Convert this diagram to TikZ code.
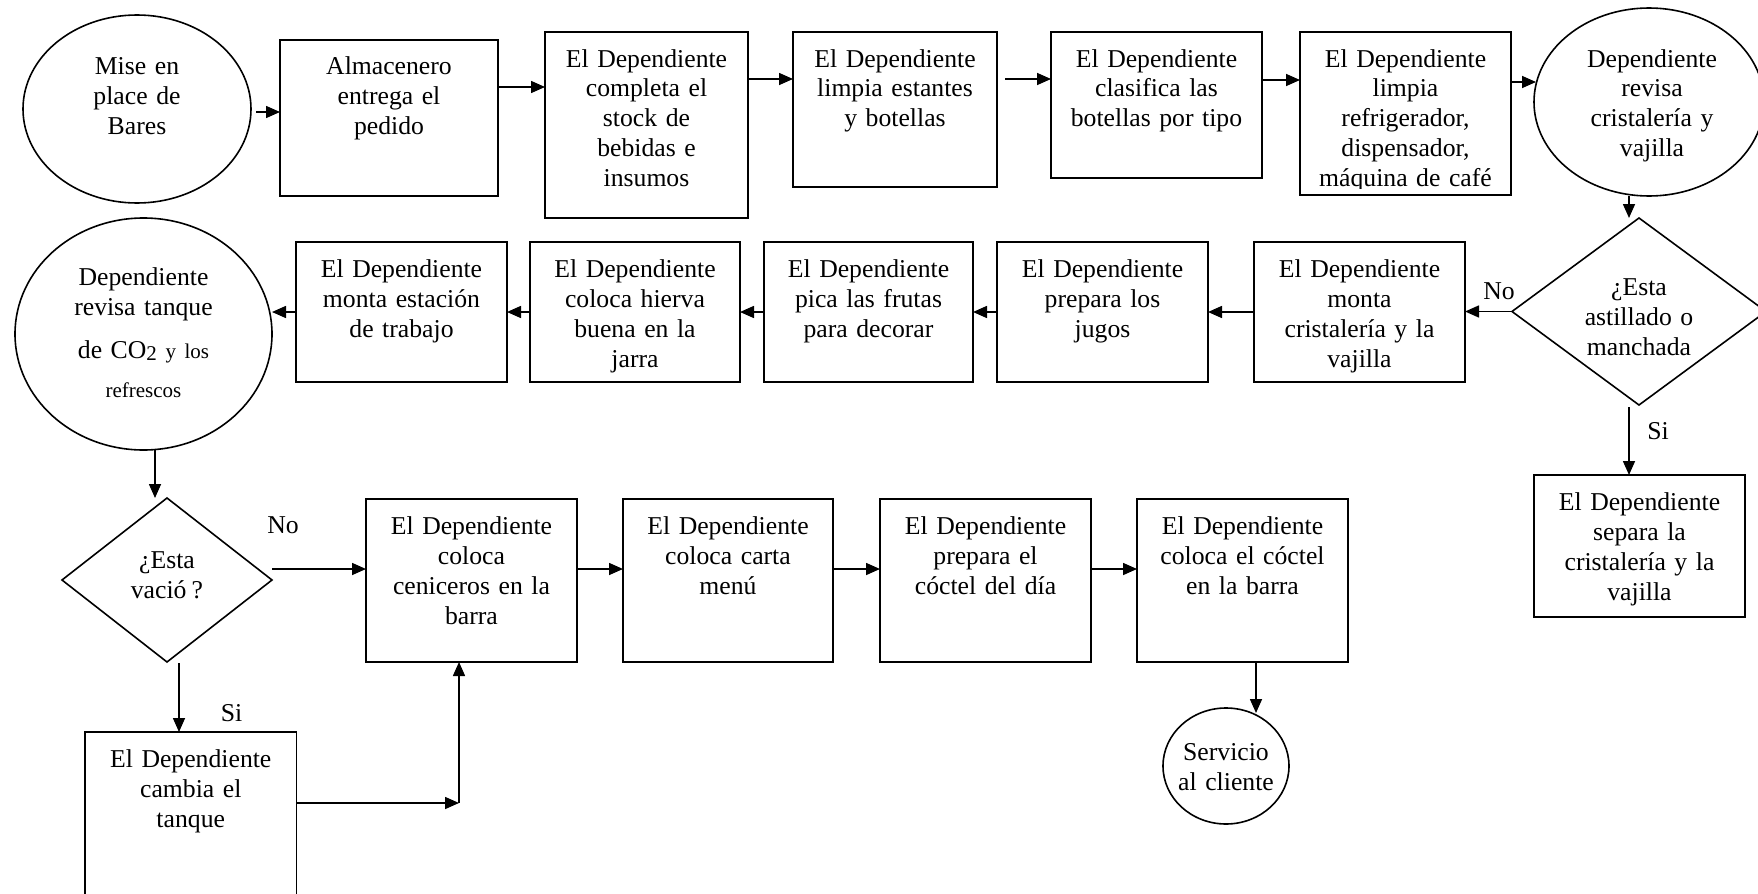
\documentclass[tikz,border=0pt]{standalone}
\usepackage{fontspec}
\setmainfont{Liberation Serif}
\usetikzlibrary{arrows.meta,shapes.geometric}

\tikzset{
  x=0.5pt, y=-0.5pt,
  every node/.style={font=\fontsize{12.85}{15}\selectfont},
  line/.style={line width=0.8pt, black},
  arr/.style={line, -{Triangle[length=7pt,width=6pt]}},
  procbox/.style={draw, line width=0.8pt, rectangle, inner sep=0pt, outer sep=0pt},
  oval/.style={draw, line width=0.8pt, ellipse, inner sep=0pt, outer sep=0pt},
  decision/.style={draw, line width=0.8pt, diamond, inner sep=0pt, outer sep=0pt},
  txt/.style={anchor=base, align=center, inner sep=0pt, text width=130pt},
  lbl/.style={anchor=base, inner sep=0pt},
}

% process box: name, x1, y1, x2, y2, text (first baseline 35 units below the top)
\newcommand\procstep[6]{%
  \node[procbox, minimum width={(#4-#2)*0.5pt}, minimum height={(#5-#3)*0.5pt}]
    (#1) at ({(#2+#4)/2},{(#3+#5)/2}) {};
  \node[txt] (#1-t) at ({(#2+#4)/2},{#3+35}) {#6};
}
\newcommand\smalltext{\fontsize{10.5}{12}\selectfont}

\begin{document}
\begin{tikzpicture}
\useasboundingbox (0,0) rectangle (1758,894);
\clip (0,0) rectangle (1758,894);

% ---------- first row ----------
\node[oval, minimum width=114pt, minimum height=94pt] (E1) at (137,109) {};
\node[txt] (E1-t) at (137,75) {Mise en\\place de\\Bares};

\procstep{B2}{280}{40}{498}{196}{Almacenero\\entrega el\\pedido}
\procstep{B3}{545}{32}{748}{218}{El Dependiente\\completa el\\stock de\\bebidas e\\insumos}
\procstep{B4}{793}{32}{997}{187}{El Dependiente\\limpia estantes\\y botellas}
\procstep{B5}{1051}{32}{1262}{178}{El Dependiente\\clasifica las\\botellas por tipo}

\node[procbox, minimum width=105.5pt, minimum height=81.5pt] (B6) at (1405.5,113.5) {};
\begin{scope}
  \clip (1300,32) rectangle (1511,188);
  \node[txt] (B6-t) at (1405.5,67) {El Dependiente\\limpia\\refrigerador,\\dispensador,\\máquina de café};
\end{scope}

\node[oval, minimum width=115pt, minimum height=94pt] (E7) at (1649,102) {};
\node[txt] (E7-t) at (1652,67) {Dependiente\\revisa\\cristalería y\\vajilla};

% ---------- decision on glassware ----------
\node[decision, minimum width=127pt, minimum height=93.5pt] (D1) at (1639,311.5) {};
\node[txt] (D1-t) at (1639,295) {¿Esta\\astillado o\\manchada};

\procstep{B8}{1254}{242}{1465}{382}{El Dependiente\\monta\\cristalería y la\\vajilla}
\procstep{B10}{1534}{475}{1745}{617}{El Dependiente\\separa la\\cristalería y la\\vajilla}

% ---------- second row ----------
\procstep{B14}{997}{242}{1208}{382}{El Dependiente\\prepara los\\jugos}
\procstep{B13}{764}{242}{973}{382}{El Dependiente\\pica las frutas\\para decorar}
\procstep{B12}{530}{242}{740}{382}{El Dependiente\\coloca hierva\\buena en la\\jarra}
\procstep{B11}{296}{242}{507}{382}{El Dependiente\\monta estación\\de trabajo}

\node[oval, minimum width=128.5pt, minimum height=116pt] (C2) at (143.5,334) {};
\node[txt] (C2-t) at (143.5,285) {Dependiente\\revisa tanque\\[6.5pt]de CO{\smalltext\raisebox{-0.1em}{2} y los}\\[4.5pt]{\smalltext refrescos}};

% ---------- decision on the CO2 tank ----------
\node[decision, minimum width=105pt, minimum height=82pt] (D2) at (167,580) {};
\node[txt] (D2-t) at (167,568) {¿Esta\\vació\hspace{0.2em}?};

\procstep{B17}{85}{732}{296.5}{930}{El Dependiente\\cambia el\\tanque}

% ---------- third row ----------
\procstep{B15}{366}{499}{577}{662}{El Dependiente\\coloca\\ceniceros en la\\barra}
\procstep{B16}{623}{499}{833}{662}{El Dependiente\\coloca carta\\menú}
\procstep{B18}{880}{499}{1091}{662}{El Dependiente\\prepara el\\cóctel del día}
\procstep{B19}{1137}{499}{1348}{662}{El Dependiente\\coloca el cóctel\\en la barra}

\node[oval, minimum width=63pt, minimum height=58pt] (E20) at (1226,766) {};
\node[txt] (E20-t) at (1226,760) {Servicio\\al cliente};

% ---------- branch labels ----------
\node[lbl] (noA) at (1499,299) {No};
\node[lbl] (siA) at (1658,439) {Si};
\node[lbl] (noB) at (283,533) {No};
\node[lbl] (siB) at (231.5,721) {Si};

% ---------- connectors ----------
\coordinate (p1) at (256,112);
\coordinate (y87) at (0,87);
\coordinate (y79) at (0,79);
\coordinate (p4) at (1005,79);
\coordinate (y80) at (0,80);
\coordinate (y82) at (0,82);
\coordinate (e7in) at (1536,82);
\coordinate (x1629) at (1629,0);
\coordinate (x155) at (155,0);
\coordinate (d2no) at (272,569);
\coordinate (d2si) at (179,663);
\coordinate (y803) at (0,803);
\coordinate (bend) at (459,803);
\coordinate (y569) at (0,569);
\coordinate (x1256) at (1256,0);
\coordinate (e20in) at (1256,713);
\coordinate (d1si) at (1629,407);

\draw[arr] (p1) -- (p1 -| B2.west);
\draw[arr] (B2.east |- y87) -- (B3.west |- y87);
\draw[arr] (B3.east |- y79) -- (B4.west |- y79);
\draw[arr] (p4) -- (p4 -| B5.west);
\draw[arr] (B5.east |- y80) -- (B6.west |- y80);
\draw[arr] (B6.east |- y82) -- (e7in);
\draw[arr] (E7.south -| x1629) -- (D1.north -| x1629);

\draw[arr] (D1.west) -- (B8.east |- D1.west);
\draw[arr] (d1si) -- (B10.north -| d1si);
\draw[arr] (B8.west) -- (B14.east);
\draw[arr] (B14.west) -- (B13.east);
\draw[arr] (B13.west) -- (B12.east);
\draw[arr] (B12.west) -- (B11.east);
\draw[arr] (B11.west) -- (B11.west -| C2.east);

\draw[arr] (C2.south -| x155) -- (D2.north -| x155);
\draw[arr] (d2no) -- (d2no -| B15.west);
\draw[arr] (d2si) -- (B17.north -| d2si);
\draw[arr] (B17.east |- y803) -- (bend);
\draw[arr] (bend) -- (bend |- B15.south);

\draw[arr] (B15.east |- y569) -- (B16.west |- y569);
\draw[arr] (B16.east |- y569) -- (B18.west |- y569);
\draw[arr] (B18.east |- y569) -- (B19.west |- y569);
\draw[arr] (B19.south -| x1256) -- (e20in);
\end{tikzpicture}
\end{document}
